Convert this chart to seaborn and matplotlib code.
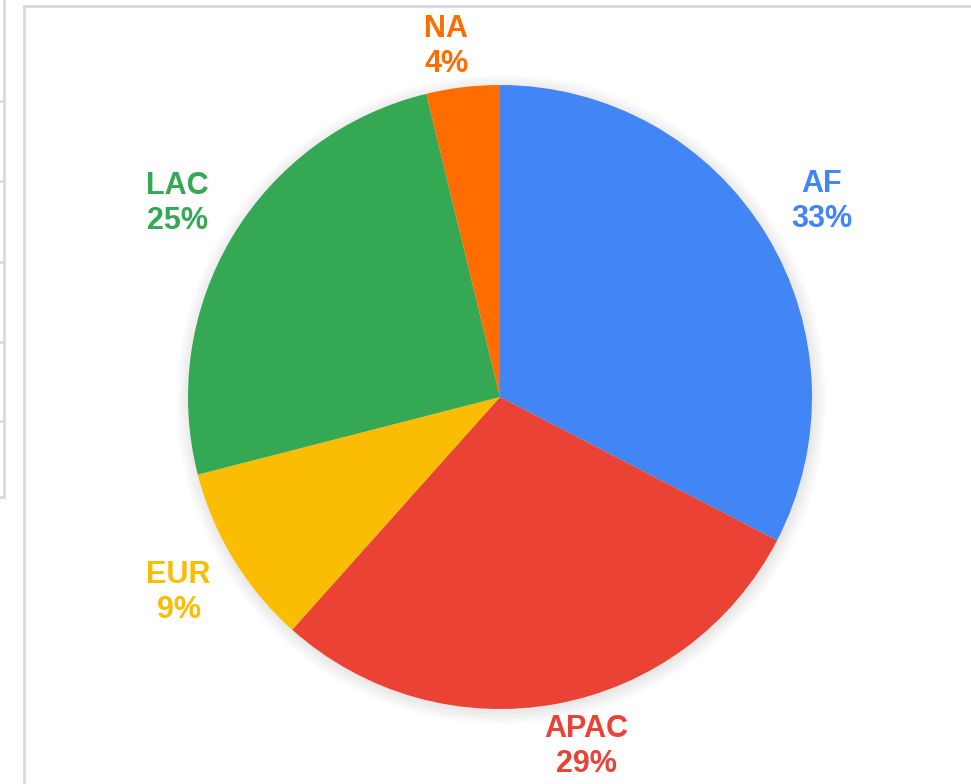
import numpy as np
import matplotlib
matplotlib.use("Agg")
import matplotlib.pyplot as plt
import seaborn as sns
from matplotlib.lines import Line2D
from matplotlib.patches import Circle

# region shares (%), clockwise from 12 o'clock
regions = ["AF", "APAC", "EUR", "LAC", "NA"]
shares = [32.6, 29.0, 9.4, 25.2, 3.8]
colors = ["#4285F4", "#EA4335", "#FBBC04", "#34A853", "#FF6D01"]

sns.set_theme(style="white")
plt.rcParams["font.family"] = ["Liberation Sans", "DejaVu Sans"]

W, H = 971, 784
fig = plt.figure(figsize=(W / 100, H / 100), dpi=100)
fig.patch.set_facecolor("white")

# pie centre and radius in pixels
cx, cy, R = 500, 784 - 397, 312
ax = fig.add_axes([0, 0, 1, 1])

# soft shadow
for i in range(8):
    ax.add_patch(Circle((0.004, -0.008), 1.0 + 0.006 * i, color="black",
                        alpha=0.012, lw=0, zorder=0))

wedges, _ = ax.pie(shares, colors=colors, startangle=90, counterclock=False,
                   radius=1.0, wedgeprops=dict(linewidth=0))
for w in wedges:
    w.set_zorder(2)

total = sum(shares)
cum = 0
for name, val, col in zip(regions, shares, colors):
    mid = 90 - (cum + val / 2) / total * 360
    cum += val
    t = np.deg2rad(mid)
    r = 1.12 + 0.1 * abs(np.cos(t))
    # labels near top/bottom lean outward a bit
    dx = np.sign(np.cos(t)) * 0.02 * len(name) * np.sin(t) ** 8
    ax.text(r * np.cos(t) + dx, r * np.sin(t), f"{name}\n{round(val / total * 100):.0f}%",
            ha="center", va="center", color=col, fontsize=22,
            fontweight="bold", linespacing=1.2, zorder=3)

ax.set_xlim(-cx / R, (W - cx) / R)
ax.set_ylim(-cy / R, (H - cy) / R)
ax.set_aspect("equal", adjustable="datalim")
ax.axis("off")

# spreadsheet frame decorations
gray = "#d9d9d9"
def px_line(xs, ys):
    fig.add_artist(Line2D([x / W for x in xs], [1 - y / H for y in ys],
                          color=gray, lw=2, transform=fig.transFigure))

px_line([24, 24], [6, 784])
px_line([24, 971], [6, 6])
px_line([4, 4], [0, 497])
for y in [101, 181, 262, 342, 421, 497]:
    px_line([0, 4], [y, y])

fig.savefig("out.png", dpi=100)
